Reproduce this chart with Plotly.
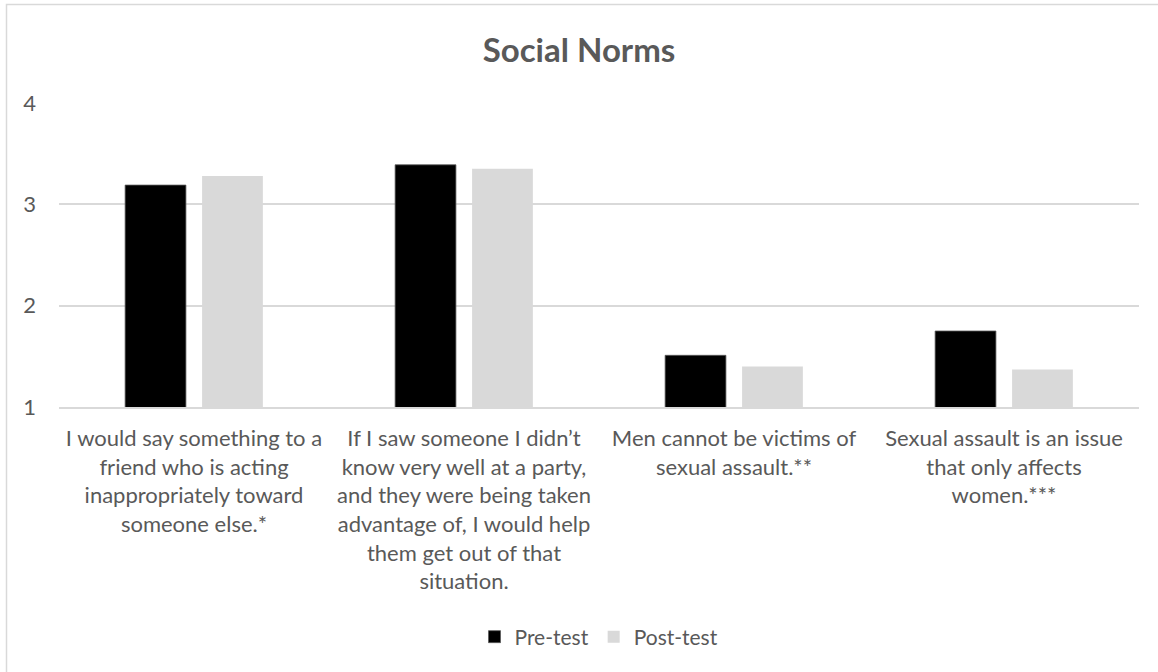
import plotly.graph_objects as go

categories = [
    "I would say something to a<br>friend who is acting<br>inappropriately toward<br>someone else.*",
    "If I saw someone I didn’t<br>know very well at a party,<br>and they were being taken<br>advantage of, I would help<br>them get out of that<br>situation.",
    "Men cannot be victims of<br>sexual assault.**",
    "Sexual assault is an issue<br>that only affects<br>women.***",
]
pre_test = [3.19, 3.39, 1.51, 1.75]
post_test = [3.28, 3.35, 1.40, 1.37]
y_ticks = [1, 2, 3, 4]

FONT = "Lato"
TEXT = "#595959"
W, H = 1158, 672
L, R, T, B = 59, 19, 103, 265

fig = go.Figure()
fig.add_trace(go.Bar(
    name="Pre-test", x=categories, y=pre_test,
    marker=dict(color="#000000", line=dict(color="#5a5a5a", width=0.8)),
))
fig.add_trace(go.Bar(
    name="Post-test", x=categories, y=post_test,
    marker=dict(color="#d9d9d9", line=dict(width=0)),
))

pw = W - L - R
ph = H - T - B
# light chart-area frame
fig.add_shape(
    type="rect", xref="paper", yref="paper",
    x0=(6.5 - L) / pw, x1=(W + 20 - L) / pw,
    y0=-(H + 20 - T - ph) / ph, y1=(H - B - 4.5) / ph,
    line=dict(color="#d9d9d9", width=1.5), layer="below",
)

fig.update_layout(
    width=W, height=H,
    margin=dict(l=L, r=R, t=T, b=B),
    paper_bgcolor="white", plot_bgcolor="white",
    barmode="group", bargap=0.43, bargroupgap=0.21,
    font=dict(family=FONT, color=TEXT, size=22),
    title=dict(text="<b>Social Norms</b>", x=0.5, xanchor="center",
               y=1 - 50 / H, yanchor="middle",
               font=dict(family=FONT, size=33, color=TEXT)),
    legend=dict(orientation="h", x=0.5, xanchor="center",
                y=-(637 - (H - B)) / ph, yanchor="middle",
                font=dict(family=FONT, size=21, color=TEXT),
                itemwidth=30, traceorder="normal"),
    showlegend=True,
)
fig.update_yaxes(
    range=[1, 4], tickvals=y_ticks, showgrid=True, gridcolor="#d9d9d9",
    gridwidth=1.5, zeroline=False, showline=False, ticks="",
    ticklabelstandoff=22, tickfont=dict(family=FONT, size=22, color=TEXT),
)
fig.update_xaxes(
    showline=True, linecolor="#d9d9d9", linewidth=1.5, ticks="",
    ticklabelstandoff=11, tickangle=0,
    tickfont=dict(family=FONT, size=22, color=TEXT),
)

fig.write_html("out.html")
